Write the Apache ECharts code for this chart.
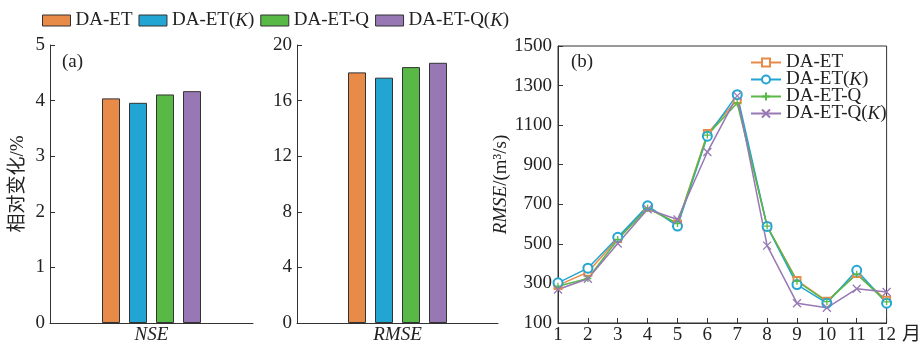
<!DOCTYPE html>
<html><head><meta charset="utf-8">
<script src="https://cdn.jsdelivr.net/npm/echarts@6/dist/echarts.min.js"></script>
<style>html,body{margin:0;padding:0;background:#fff}#c{width:924px;height:345px}</style>
</head><body><div id="c"></div>
<script>
const seriesNames = ['DA-ET', 'DA-ET(K)', 'DA-ET-Q', 'DA-ET-Q(K)'];
const colors = ['#E88B48', '#22A5D3', '#58B947', '#9778B5'];
const nseValues = [4.04, 3.96, 4.11, 4.17];
const rmsePctValues = [18.03, 17.65, 18.41, 18.72];
const months = ['1','2','3','4','5','6','7','8','9','10','11','12'];
const rmseDAET = [290, 357, 527, 685, 600, 1058, 1228, 588, 315, 210, 350, 215];
const rmseDAETK = [303, 377, 533, 692, 590, 1044, 1254, 588, 294, 200, 366, 200];
const rmseDAETQ = [286, 325, 522, 680, 603, 1050, 1212, 590, 311, 208, 347, 207];
const rmseDAETQK = [269, 324, 502, 675, 623, 964, 1248, 491, 200, 177, 273, 257];

const FONT = "'Liberation Serif', 'Times New Roman', 'Noto Sans CJK SC', serif";
const FS = 19;
const TXT = '#222';
const AX = '#333';
const ZW = '\u200b';
const lineData = [rmseDAET, rmseDAETK, rmseDAETQ, rmseDAETQK];
const symbols = ['emptyRect', 'emptyCircle', 'path://M5,0L5,10M0,5L10,5', 'path://M0,0L10,10M10,0L0,10'];
const symSizes = [7, 9, 7, 8];

const rich = {
  n: {fontFamily: FONT, fontSize: FS, color: TXT},
  i: {fontFamily: FONT, fontSize: FS, color: TXT, fontStyle: 'italic'}
};
const richTight = {
  n: {fontFamily: FONT, fontSize: FS, color: TXT, lineHeight: 17},
  i: {fontFamily: FONT, fontSize: FS, color: TXT, fontStyle: 'italic', lineHeight: 17}
};
function fmt(name) {
  name = name.replace(ZW, '');
  return '{n|' + name.replace('(K)', '(}{i|K}{n|)') + '}';
}

const chart = echarts.init(document.getElementById('c'));
const series = [];
seriesNames.forEach((n, k) => {
  series.push({name: n, type: 'bar', xAxisIndex: 0, yAxisIndex: 0, data: [nseValues[k]],
    barWidth: 18, barGap: '50%', itemStyle: {color: colors[k], borderColor: AX, borderWidth: 1}});
});
seriesNames.forEach((n, k) => {
  series.push({name: n, type: 'bar', xAxisIndex: 1, yAxisIndex: 1, data: [rmsePctValues[k]],
    barWidth: 18, barGap: '50%', itemStyle: {color: colors[k], borderColor: AX, borderWidth: 1}});
});
seriesNames.forEach((n, k) => {
  series.push({name: n + ZW, type: 'line', xAxisIndex: 2, yAxisIndex: 2, data: lineData[k],
    symbol: symbols[k], symbolSize: symSizes[k], showAllSymbol: true,
    lineStyle: {color: colors[k], width: 1.5},
    itemStyle: {color: colors[k], borderColor: colors[k], borderWidth: 1.3}});
});

const valueAxisCommon = {
  type: 'value',
  axisLine: {show: true, lineStyle: {color: AX, width: 1}},
  axisTick: {show: true, inside: true, length: 5, lineStyle: {color: AX}},
  splitLine: {show: false},
  axisLabel: {fontFamily: FONT, fontSize: FS, color: TXT, margin: 5, formatter: v => String(v)}
};

chart.setOption({
  animation: false,
  title: [
    {text: '(a)', left: 57, top: 48, textStyle: {fontFamily: FONT, fontSize: FS, fontWeight: 'normal', color: TXT}},
    {text: '(b)', left: 566, top: 48, textStyle: {fontFamily: FONT, fontSize: FS, fontWeight: 'normal', color: TXT}}
  ],
  legend: [
    {data: seriesNames, left: 37, top: 6, icon: 'rect', itemWidth: 28, itemHeight: 11, itemGap: 6,
      formatter: fmt, textStyle: {rich: rich, fontFamily: FONT, fontSize: FS, color: TXT},
      itemStyle: {borderColor: AX, borderWidth: 1}},
    {data: seriesNames.map(n => n + ZW), left: 745, top: 48, orient: 'vertical', itemWidth: 30, itemHeight: 10,
      itemGap: -2, formatter: fmt, textStyle: {rich: richTight, fontFamily: FONT, fontSize: FS, color: TXT, lineHeight: 17}}
  ],
  grid: [
    {left: 50, top: 45, width: 203, height: 281},
    {left: 297, top: 45, width: 201, height: 281},
    {left: 558, top: 46, width: 338, height: 280.5, show: true, borderColor: AX, borderWidth: 1, backgroundColor: 'transparent'}
  ],
  xAxis: [
    {gridIndex: 0, type: 'category', data: ['NSE'], axisTick: {show: false},
      axisLine: {lineStyle: {color: AX}},
      axisLabel: {fontFamily: FONT, fontSize: FS, color: TXT, fontStyle: 'italic', margin: 3}},
    {gridIndex: 1, type: 'category', data: ['RMSE'], axisTick: {show: false},
      axisLine: {lineStyle: {color: AX}},
      axisLabel: {fontFamily: FONT, fontSize: FS, color: TXT, fontStyle: 'italic', margin: 3}},
    {gridIndex: 2, type: 'category', data: months, boundaryGap: false,
      axisLine: {lineStyle: {color: AX}},
      axisTick: {show: true, inside: true, length: 5, lineStyle: {color: AX}},
      axisLabel: {fontFamily: FONT, fontSize: FS, color: TXT, margin: 3, interval: 0},
      name: '月', nameLocation: 'end', nameGap: 10,
      nameTextStyle: {fontFamily: FONT, fontSize: FS, color: TXT, verticalAlign: 'top', padding: [3, 0, 0, 0]}}
  ],
  yAxis: [
    Object.assign({}, valueAxisCommon, {gridIndex: 0, min: 0, max: 5, interval: 1,
      name: '相对变化/%', nameLocation: 'middle', nameGap: 22, nameRotate: 90,
      nameTextStyle: {fontFamily: FONT, fontSize: FS, color: TXT}}),
    Object.assign({}, valueAxisCommon, {gridIndex: 1, min: 0, max: 20, interval: 4}),
    Object.assign({}, valueAxisCommon, {gridIndex: 2, min: 100, max: 1500, interval: 200,
      axisLabel: {fontFamily: FONT, fontSize: FS, color: TXT, margin: 6, formatter: v => String(v)},
      name: '{i|RMSE}{n|/(m³/s)}', nameLocation: 'middle', nameGap: 45, nameRotate: 90,
      nameTextStyle: {rich: rich, fontFamily: FONT, fontSize: FS, color: TXT}})
  ],
  series: series
});
</script>
</body></html>
